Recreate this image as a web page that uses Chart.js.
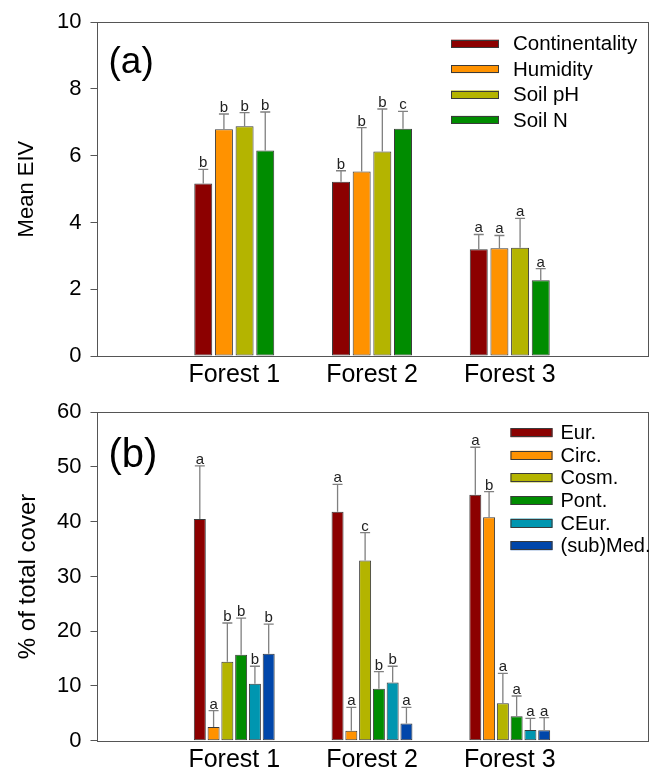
<!DOCTYPE html>
<html>
<head>
<meta charset="utf-8">
<script src="https://cdn.jsdelivr.net/npm/chart.js@4.4.1/dist/chart.umd.min.js"></script>
<style>
  html, body { margin: 0; padding: 0; background: #fff; }
  #wrap { position: relative; width: 652px; height: 772px; }
  canvas { position: absolute; left: 0; }
</style>
</head>
<body>
<div id="wrap">
  <canvas id="eiv-chart" width="652" height="390" style="top:0"></canvas>
  <canvas id="cover-chart" width="652" height="382" style="top:390px"></canvas>
</div>
<script>
// categories (empty slots left/right give the spacing of the original axis)
const forests = ['Forest 1', 'Forest 2', 'Forest 3'];

// (a) Mean EIV
const eivNames = ['Continentality', 'Humidity', 'Soil pH', 'Soil N'];
const continentality = [5.17, 5.22, 3.20];
const humidity = [6.79, 5.53, 3.23];
const soilPh = [6.88, 6.13, 3.24];
const soilN = [6.16, 6.81, 2.27];
const continentalityErr = [0.42, 0.33, 0.44];
const humidityErr = [0.46, 1.31, 0.38];
const soilPhErr = [0.41, 1.27, 0.88];
const soilNErr = [1.15, 0.52, 0.35];
const continentalityLetters = ['b', 'b', 'a'];
const humidityLetters = ['b', 'b', 'a'];
const soilPhLetters = ['b', 'b', 'a'];
const soilNLetters = ['b', 'c', 'a'];

// (b) % of total cover
const coverNames = ['Eur.', 'Circ.', 'Cosm.', 'Pont.', 'CEur.', '(sub)Med.'];
const eur = [40.5, 41.8, 44.9];
const circ = [2.5, 1.8, 40.8];
const cosm = [14.4, 32.9, 6.85];
const pont = [15.7, 9.5, 4.46];
const ceur = [10.4, 10.65, 1.96];
const subMed = [15.9, 3.15, 1.9];
const eurErr = [9.7, 5.0, 8.7];
const circErr = [3.0, 4.3, 4.7];
const cosmErr = [7.1, 5.1, 5.45];
const pontErr = [6.7, 3.1, 3.7];
const ceurErr = [3.2, 2.95, 2.1];
const subMedErr = [5.4, 2.95, 2.3];
const eurLetters = ['a', 'a', 'a'];
const circLetters = ['a', 'a', 'b'];
const cosmLetters = ['b', 'c', 'a'];
const pontLetters = ['b', 'b', 'a'];
const ceurLetters = ['b', 'b', 'a'];
const subMedLetters = ['b', 'a', 'a'];

const eivTickMax = 10, eivTickStep = 2;
const coverTickMax = 60, coverTickStep = 10;

const FONT = '"Liberation Sans", Arial, Helvetica, sans-serif';
const colors = ['#8C0000', '#FF9200', '#B4B400', '#008C00', '#0096B0', '#0046AA'];

Chart.defaults.font.family = FONT;
Chart.defaults.color = '#000';

const pad = arr => [null, ...arr, null];

function makeDatasets(names, values, errs, letters) {
    return names.map((name, i) => ({
        label: name,
        data: pad(values[i]),
        errors: pad(errs[i]),
        letters: pad(letters[i]),
        backgroundColor: colors[i],
        borderColor: '#3a3a3a',
        borderWidth: 1,
        borderSkipped: false,
        categoryPercentage: 0.6,
        barPercentage: 0.87
    }));
}

// error bars, letters, frame, legend and panel tag
const panelExtras = {
    id: 'panelExtras',
    afterDatasetsDraw(chart, args, opts) {
        const ctx = chart.ctx;
        const yScale = chart.scales.y;
        ctx.save();
        chart.data.datasets.forEach((ds, i) => {
            const meta = chart.getDatasetMeta(i);
            meta.data.forEach((bar, j) => {
                const v = ds.data[j];
                if (v == null) return;
                const yTop = yScale.getPixelForValue(v);
                const yCap = yScale.getPixelForValue(v + ds.errors[j]);
                ctx.strokeStyle = '#808080';
                ctx.lineWidth = 1.3;
                ctx.beginPath();
                ctx.moveTo(bar.x, yTop);
                ctx.lineTo(bar.x, yCap);
                ctx.moveTo(bar.x - 5, yCap);
                ctx.lineTo(bar.x + 5, yCap);
                ctx.stroke();
                ctx.fillStyle = '#222';
                ctx.font = '15px ' + FONT;
                ctx.textAlign = 'center';
                ctx.textBaseline = 'alphabetic';
                ctx.fillText(ds.letters[j], bar.x, yCap - 2);
            });
        });
        ctx.restore();
    },
    afterDraw(chart, args, opts) {
        const ctx = chart.ctx;
        const a = chart.chartArea;
        ctx.save();
        ctx.strokeStyle = '#555';
        ctx.lineWidth = 1;
        ctx.strokeRect(Math.round(a.left) + 0.5, Math.round(a.top) + 0.5,
            Math.round(a.right - a.left), Math.round(a.bottom - a.top));

        // panel tag
        ctx.fillStyle = '#000';
        ctx.font = opts.tagSize + 'px ' + FONT;
        ctx.textAlign = 'left';
        ctx.textBaseline = 'alphabetic';
        ctx.fillText(opts.tag, a.left + 12, a.top + opts.tagBase);

        // legend
        const lg = opts.legend;
        ctx.font = lg.font + 'px ' + FONT;
        ctx.textBaseline = 'middle';
        chart.data.datasets.forEach((ds, i) => {
            const cy = a.top + lg.top + i * lg.step;
            const x0 = a.right - lg.right;
            ctx.fillStyle = ds.backgroundColor;
            ctx.fillRect(x0, cy - lg.h / 2, lg.w, lg.h);
            ctx.strokeStyle = '#3a3a3a';
            ctx.strokeRect(x0 + 0.5, Math.round(cy - lg.h / 2) + 0.5, lg.w - 1, lg.h - 1);
            ctx.fillStyle = '#000';
            ctx.fillText(ds.label, x0 + lg.w + lg.gap, cy + 1);
        });
        ctx.restore();
    }
};

function makeChart(canvasId, datasets, yMax, yStep, yTitle, titleSize, topPad, xHeight, extras) {
    return new Chart(document.getElementById(canvasId), {
        type: 'bar',
        data: { labels: ['', ...forests, ''], datasets },
        plugins: [panelExtras],
        options: {
            responsive: false,
            animation: false,
            layout: { padding: { top: topPad, right: 4.5, left: 0, bottom: 0 } },
            plugins: {
                legend: { display: false },
                tooltip: { enabled: false },
                panelExtras: extras
            },
            scales: {
                x: {
                    offset: false,
                    grid: { display: false, drawTicks: false },
                    border: { display: false },
                    ticks: { font: { size: 25 }, padding: 4, maxRotation: 0, autoSkip: false },
                    afterFit: s => { s.height = xHeight; }
                },
                y: {
                    min: 0,
                    max: yMax,
                    ticks: { stepSize: yStep, font: { size: 22 }, padding: 9 },
                    grid: { drawOnChartArea: false, drawTicks: true, tickLength: 6, color: '#555' },
                    border: { display: false },
                    title: { display: true, text: yTitle, font: { size: titleSize }, padding: 14 },
                    afterFit: s => { s.width = 96.5; }
                }
            }
        }
    });
}

makeChart('eiv-chart',
    makeDatasets(eivNames,
        [continentality, humidity, soilPh, soilN],
        [continentalityErr, humidityErr, soilPhErr, soilNErr],
        [continentalityLetters, humidityLetters, soilPhLetters, soilNLetters]),
    eivTickMax, eivTickStep, 'Mean EIV', 22, 20.7, 34,
    { tag: '(a)', tagSize: 37, tagBase: 51,
      legend: { top: 21.5, step: 25.4, right: 196.5, w: 48, h: 8, gap: 14, font: 20.5 } });

makeChart('cover-chart',
    makeDatasets(coverNames,
        [eur, circ, cosm, pont, ceur, subMed],
        [eurErr, circErr, cosmErr, pontErr, ceurErr, subMedErr],
        [eurLetters, circLetters, cosmLetters, pontLetters, ceurLetters, subMedLetters]),
    coverTickMax, coverTickStep, '% of total cover', 24, 14.3, 31.3,
    { tag: '(b)', tagSize: 40, tagBase: 55,
      legend: { top: 20.5, step: 22.6, right: 137, w: 42, h: 9, gap: 8, font: 20 } });
</script>
</body>
</html>
